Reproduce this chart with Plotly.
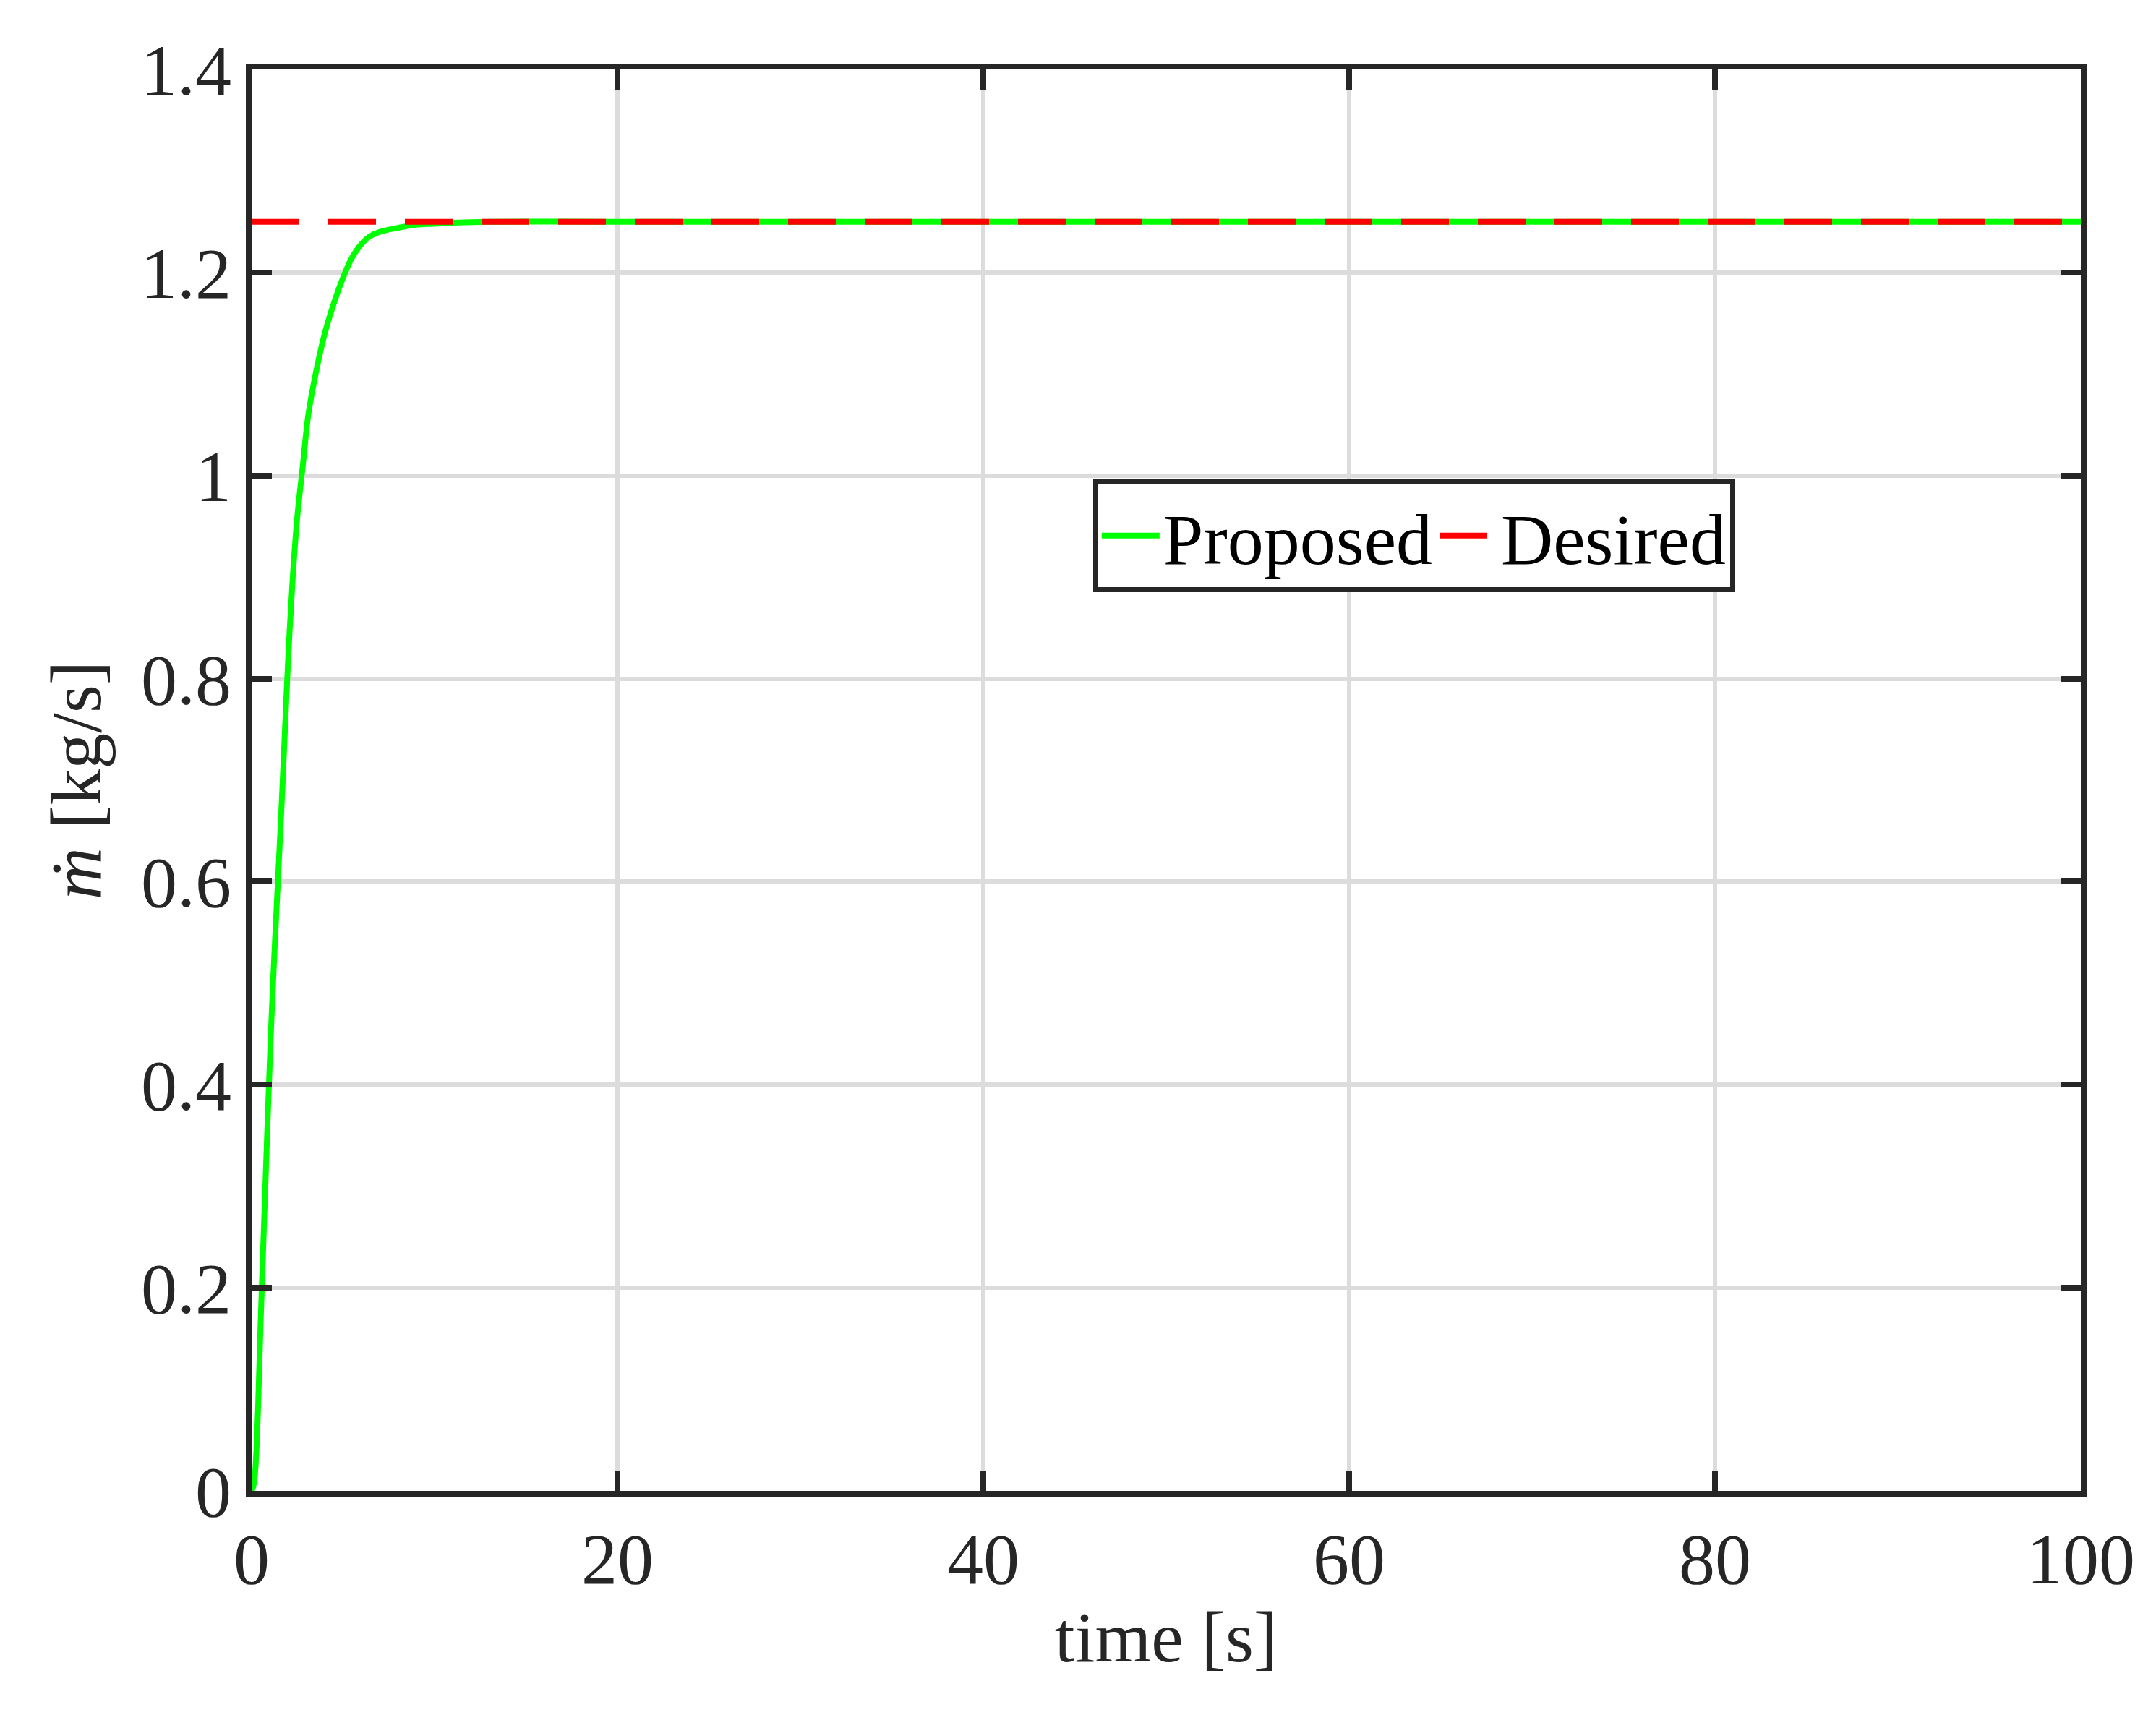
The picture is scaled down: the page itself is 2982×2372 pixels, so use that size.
import plotly.graph_objects as go

t = [0, 0.1, 0.2, 0.35, 0.5, 0.75, 1.05, 1.3, 1.6, 1.8, 2.0, 2.25, 2.5, 2.8, 3.1, 3.5, 4.0, 4.5, 5.0, 5.5, 6.0, 6.5, 7.0, 8.0, 9.0, 10.0, 11.0, 13.0, 20, 40, 60, 80, 100]
m_dot = [0, 0.005, 0.02, 0.08, 0.17, 0.3, 0.45, 0.55, 0.66, 0.74, 0.82, 0.9, 0.96, 1.01, 1.06, 1.1, 1.14, 1.17, 1.195, 1.215, 1.228, 1.236, 1.24, 1.244, 1.247, 1.248, 1.249, 1.25, 1.25, 1.25, 1.25, 1.25, 1.25]
desired_t = [0, 100]
desired = [1.25, 1.25]

F = "Liberation Serif"
fig = go.Figure()
fig.add_trace(go.Scatter(x=t, y=m_dot, mode="lines", name="Proposed",
                         line=dict(color="#00ff00", width=8, shape="spline")))
fig.add_trace(go.Scatter(x=desired_t, y=desired, mode="lines", name="Desired",
                         line=dict(color="#ff0000", width=8, dash="66px,40px")))

ax = dict(showline=True, linecolor="#262626", linewidth=8, mirror="ticks",
          ticks="inside", ticklen=28, tickwidth=8, tickcolor="#262626",
          showgrid=True, gridcolor="#dcdcdc", gridwidth=6, zeroline=False,
          tickfont=dict(family=F, size=100, color="#262626"))
fig.update_xaxes(range=[0, 100], dtick=20, title=dict(text="time [s]", font=dict(family=F, size=100, color="#262626"), standoff=20), **ax)
fig.update_yaxes(range=[0, 1.4], tickvals=[0,0.2,0.4,0.6,0.8,1,1.2,1.4],
                 ticktext=["0","0.2","0.4","0.6","0.8","1","1.2","1.4"],
                 title=dict(text="<i>ṁ</i> [kg/s]", font=dict(family=F, size=100, color="#262626"), standoff=25), **ax)
fig.update_layout(width=2982, height=2372, plot_bgcolor="white", paper_bgcolor="white",
                  margin=dict(l=340, r=112, t=88, b=318),
                  legend=dict(orientation="h", x=0.46, y=0.712, xanchor="left", yanchor="top",
                              bordercolor="#262626", borderwidth=7, bgcolor="white",
                              font=dict(family=F, size=100, color="#000000"),
                              itemwidth=80))
fig.write_html("out.html")
